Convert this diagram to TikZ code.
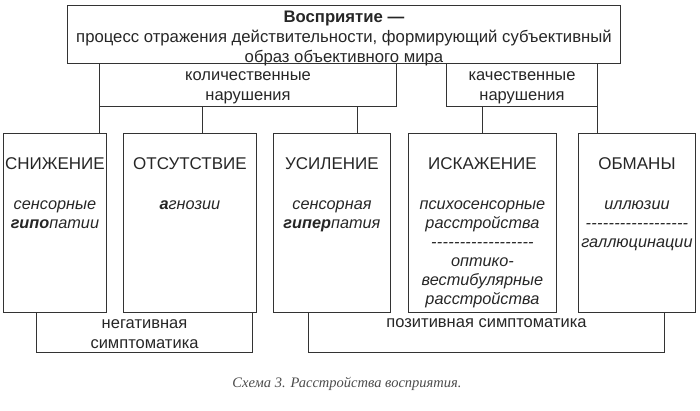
\documentclass[tikz,border=0pt]{standalone}
\usepackage{fontspec}
\setmainfont{Liberation Sans}
\newfontfamily\capfont{Liberation Serif}
\usetikzlibrary{positioning}
\newcommand\dashrow{\hbox to 103pt{\xleaders\hbox{-}\hfill}}

\begin{document}
\begin{tikzpicture}[x=1pt,y=-1pt,line width=0.9pt,color=black!80,
                    node distance=1pt]
  \tikzstyle{frame}=[rectangle,draw,inner sep=0pt,anchor=north west]
  \tikzstyle{head}=[font=\fontsize{17}{19}\selectfont,anchor=base,text=black!85]
  \tikzstyle{body}=[font=\fontsize{16.3}{19}\selectfont\itshape,align=center,
                    anchor=north,inner sep=0pt,text=black!85]
  \tikzstyle{brace}=[font=\fontsize{16.5}{20}\selectfont,align=center,
                     inner sep=0pt,anchor=north,text=black!85]

  \useasboundingbox (0,0) rectangle (700,410);

  \node[frame,minimum width=553pt,minimum height=58pt] (vos) at (67,5) {};
  \node[body,font=\fontsize{16.7}{20}\selectfont] (def) [below=5pt of vos.north]
    {\rule{0pt}{12.5pt}\textbf{Восприятие —}\\
     процесс отражения действительности, формирующий субъективный\\
     образ объективного мира};

  \node[brace,minimum width=296pt,minimum height=43pt,text height=37pt,
        text depth=6pt] (kol) at (248,63) {количественные\\нарушения};
  \node[brace,minimum width=150pt,minimum height=43pt,text height=37pt,
        text depth=6pt] (kach) at (522,63) {качественные\\нарушения};

  \node[frame,minimum width=103pt,minimum height=179pt] (sni) at (3,133) {};
  \node[frame,minimum width=133pt,minimum height=179pt] (otc) at (123,133) {};
  \node[frame,minimum width=117pt,minimum height=179pt] (usi) at (273,133) {};
  \node[frame,minimum width=148pt,minimum height=179pt] (isk) at (408,133) {};
  \node[frame,minimum width=117pt,minimum height=179pt] (obm) at (578,133) {};

  \node[head] (sni-h) at ([yshift=-36pt]sni.north) {СНИЖЕНИЕ};
  \node[head] (otc-h) at ([yshift=-36pt]otc.north) {ОТСУТСТВИЕ};
  \node[head] (usi-h) at ([yshift=-36pt]usi.north) {УСИЛЕНИЕ};
  \node[head] (isk-h) at ([yshift=-36pt]isk.north) {ИСКАЖЕНИЕ};
  \node[head] (obm-h) at ([yshift=-36pt]obm.north) {ОБМАНЫ};

  \node[body] (sni-t) [below=64pt of sni.north]
    {\rule{0pt}{12pt}сенсорные\\\textbf{гипо}патии};
  \node[body] (otc-t) [below=64pt of otc.north]
    {\rule{0pt}{12pt}\textbf{а}гнозии};
  \node[body] (usi-t) [below=64pt of usi.north]
    {\rule{0pt}{12pt}сенсорная\\\textbf{гипер}патия};
  \node[body] (isk-t) [below=64pt of isk.north]
    {\rule{0pt}{12pt}психосенсорные\\расстройства\\\dashrow\\оптико-\\
     вестибулярные\\расстройства};
  \node[body] (obm-t) [below=64pt of obm.north]
    {\rule{0pt}{12pt}иллюзии\\\dashrow\\галлюцинации};

  \node[brace,minimum width=215pt,minimum height=40pt,text height=36pt,
        text depth=4pt] (neg) at (144.5,312) {негативная\\симптоматика};
  \node[brace,minimum width=355pt,minimum height=40pt,text height=15pt,
        text depth=25pt] (poz) at (486.5,312) {позитивная симптоматика};

  % upper brackets
  \draw (kol.north west) -- (kol.west |- sni.north);
  \draw (kol.south west) -- (kol.south east) -- (kol.north east);
  \draw ([xshift=12.5pt]otc.north) -- ([xshift=12.5pt]otc.north |- kol.south);
  \draw ([xshift=25.5pt]usi.north) -- ([xshift=25.5pt]usi.north |- kol.south);
  \draw (kach.north west) |- (kach.south east);
  \draw (kach.north east) -- (kach.east |- obm.north);
  \draw (isk.north) -- (isk.north |- kach.south);

  % lower brackets
  \draw (neg.north west) |- (neg.south east) -- (neg.north east);
  \draw (poz.north west) |- (poz.south east) -- (poz.north east);

  \node[font=\capfont\itshape\fontsize{14.5}{18}\selectfont,anchor=base,
        text=black!70] (cap) at (347,387) {Схема 3. Расстройства восприятия.};
\end{tikzpicture}
\end{document}
